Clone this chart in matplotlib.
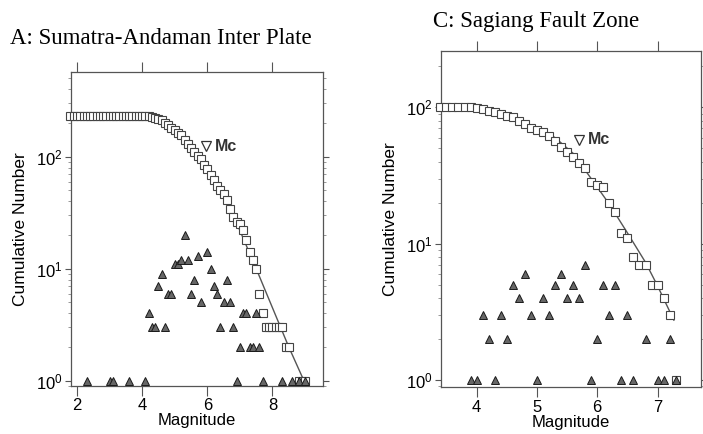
import matplotlib
matplotlib.use("Agg")
import matplotlib.pyplot as plt
from matplotlib.ticker import LogLocator, FixedLocator, NullFormatter

# ---------------- data: panel A (Sumatra-Andaman Inter Plate) ----------------
a_cum_mag = [1.8, 1.9, 2.0, 2.1, 2.2, 2.3, 2.4, 2.5, 2.6, 2.7, 2.8, 2.9, 3.0, 3.1,
             3.2, 3.3, 3.4, 3.5, 3.6, 3.7, 3.8, 3.9, 4.0, 4.1, 4.2, 4.3, 4.4, 4.5,
             4.6, 4.7, 4.8, 4.9, 5.0, 5.1, 5.2, 5.3, 5.4, 5.5, 5.6, 5.7, 5.8, 5.9,
             6.0, 6.1, 6.2, 6.3, 6.4, 6.5, 6.6, 6.7, 6.8, 6.9, 7.0, 7.1, 7.2, 7.3,
             7.4, 7.5, 7.6, 7.7, 7.8, 7.9, 8.0, 8.1, 8.2, 8.3, 8.4, 8.5, 8.8, 8.9, 9.0]
a_cum_num = [230, 230, 230, 230, 230, 230, 230, 230, 230, 230, 230, 230, 230, 230,
             230, 230, 230, 230, 230, 230, 230, 230, 230, 229, 229, 228, 222, 218,
             213, 200, 192, 182, 173, 164, 156, 142, 130, 120, 111, 102, 95, 85,
             78, 68, 62, 55, 50, 46, 41, 34, 29, 26, 25, 22, 18, 14,
             12, 10, 6, 4, 3, 3, 3, 3, 3, 3, 2, 2, 1, 1, 1]
a_inc_mag = [2.3, 3.0, 3.1, 3.6, 4.1, 4.2, 4.3, 4.4, 4.5, 4.6, 4.7, 4.8, 4.9, 5.0,
             5.1, 5.2, 5.3, 5.4, 5.5, 5.6, 5.7, 5.8, 6.0, 6.1, 6.2, 6.3, 6.4, 6.5,
             6.6, 6.7, 6.8, 6.9, 7.0, 7.1, 7.2, 7.3, 7.4, 7.5, 7.6, 7.7, 8.3, 8.6,
             8.8, 9.0]
a_inc_num = [1, 1, 1, 1, 1, 4, 3, 3, 7, 9, 3, 6, 6, 11,
             11, 12, 20, 12, 6, 8, 13, 5, 14, 10, 7, 6, 3, 5,
             8, 5, 3, 1, 2, 4, 4, 2, 2, 4, 2, 1, 1, 1,
             1, 1]
a_fit_mag = [6.0, 6.6, 7.5, 8.5, 9.05]
a_fit_num = [72, 41, 10, 2.0, 0.88]
a_mc = (5.97, 124)

# ---------------- data: panel C (Sagiang Fault Zone) ----------------
c_cum_mag = [3.4, 3.5, 3.6, 3.7, 3.8, 3.9, 4.0, 4.1, 4.2, 4.3, 4.4, 4.5, 4.6, 4.7,
             4.8, 4.9, 5.0, 5.1, 5.2, 5.3, 5.4, 5.5, 5.6, 5.7, 5.8, 5.9, 6.0, 6.1,
             6.2, 6.3, 6.4, 6.5, 6.6, 6.7, 6.8, 6.9, 7.0, 7.1, 7.2, 7.3]
c_cum_num = [100, 100, 100, 100, 100, 100, 99, 97, 94, 92, 89, 86, 85, 80,
             75, 70, 68, 66, 62, 57, 51, 47, 43, 39, 36, 28.5, 27, 26,
             20, 17, 12, 11, 8, 7, 7, 5, 5, 4, 3, 1]
c_inc_mag = [3.9, 4.0, 4.1, 4.2, 4.3, 4.4, 4.5, 4.6, 4.7, 4.8, 4.9, 5.0, 5.1, 5.2,
             5.3, 5.4, 5.5, 5.6, 5.7, 5.8, 5.9, 6.0, 6.1, 6.2, 6.3, 6.4, 6.5, 6.6,
             6.8, 7.0, 7.1, 7.2, 7.3]
c_inc_num = [1, 1, 3, 2, 1, 3, 2, 5, 4, 6, 3, 1, 4, 3,
             5, 6, 4, 5, 4, 7, 1, 2, 5, 3, 5, 1, 3, 1,
             2, 1, 1, 2, 1]
c_fit_mag = [3.4, 4.0, 4.5, 5.0, 5.3, 5.6, 5.9, 6.2, 6.5, 6.8, 7.0, 7.27]
c_fit_num = [100, 99, 88, 71, 60, 46, 30, 19.5, 12, 7.3, 4.9, 2.75]
c_mc = (5.70, 58)

plt.rcParams['font.family'] = ['Liberation Sans', 'DejaVu Sans']
plt.rcParams['mathtext.default'] = 'regular'

W, H = 703, 434
fig = plt.figure(figsize=(W / 100, H / 100), dpi=100)


def px_axes(x0, y0, x1, y1):
    return fig.add_axes([x0 / W, 1 - y1 / H, (x1 - x0) / W, (y1 - y0) / H])


def style(ax, xticks, xlim, ylim):
    ax.set_yscale('log')
    ax.set_xlim(*xlim)
    ax.set_ylim(*ylim)
    ax.xaxis.set_major_locator(FixedLocator(xticks))
    ax.yaxis.set_major_locator(LogLocator(base=10, numticks=10))
    ax.yaxis.set_minor_locator(LogLocator(base=10, subs=range(2, 10), numticks=10))
    ax.yaxis.set_minor_formatter(NullFormatter())
    for s in ax.spines.values():
        s.set_color('#555555')
        s.set_linewidth(0.9)
    ax.tick_params(axis='x', which='major', direction='out', length=4, width=0.8,
                   color='#555555', top=True, labelsize=12, pad=2)
    ax.tick_params(axis='x', which='major', top=True, length=7)
    ax.tick_params(axis='y', which='major', direction='out', length=4, width=0.8,
                   color='#555555', right=True, labelsize=12, pad=2)
    ax.tick_params(axis='y', which='minor', direction='out', length=2.5, width=0.6,
                   color='#888888', right=True)
    ax.set_xlabel('Magnitude', fontsize=12, labelpad=0)
    ax.set_ylabel('Cumulative Number', fontsize=12.5, labelpad=6)


def draw(ax, cm, cn, im, inn, fm, fn, mc):
    ax.plot(fm, fn, color='#555555', lw=1.0, zorder=2)
    ax.plot(cm, cn, ls='none', marker='s', ms=5.5, mfc='white', mec='#444444',
            mew=0.8, zorder=3, clip_on=False)
    ax.plot(im, inn, ls='none', marker='^', ms=5.2, mfc='#666666', mec='#1a1a1a',
            mew=0.7, zorder=4, clip_on=False)
    ax.plot([mc[0]], [mc[1]], ls='none', marker='v', ms=7.5, mfc='white',
            mec='#333333', mew=0.9, zorder=5)
    ax.annotate('Mc', xy=mc, xytext=(6, 0), textcoords='offset points',
                fontsize=11.5, fontweight='bold', color='#333333',
                va='center', ha='left')


axA = px_axes(71, 72, 323, 386)
style(axA, [2, 4, 6, 8], (1.816, 9.55), (0.897, 570))
draw(axA, a_cum_mag, a_cum_num, a_inc_mag, a_inc_num, a_fit_mag, a_fit_num, a_mc)

axC = px_axes(441, 51, 701, 387)
style(axC, [4, 5, 6, 7], (3.41, 7.72), (0.889, 259))
draw(axC, c_cum_mag, c_cum_num, c_inc_mag, c_inc_num, c_fit_mag, c_fit_num, c_mc)

fig.text(10 / W, 1 - 38 / H, 'A: Sumatra-Andaman Inter Plate', family='Liberation Serif',
         fontsize=16.5, va='center', ha='left')
fig.text(433 / W, 1 - 22 / H, 'C: Sagiang Fault Zone', family='Liberation Serif',
         fontsize=16.5, va='center', ha='left')

fig.savefig('out.png', dpi=100)
